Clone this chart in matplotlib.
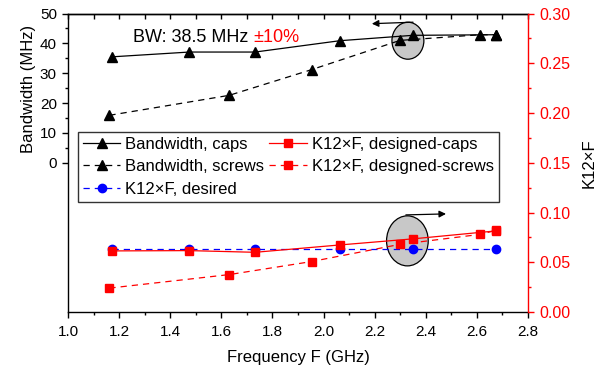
import matplotlib
matplotlib.use("Agg")
import matplotlib.pyplot as plt
from matplotlib.patches import Ellipse
from matplotlib.ticker import MultipleLocator, FixedLocator, FormatStrFormatter

plt.rcParams['font.family'] = ['Liberation Sans', 'DejaVu Sans']

# ---- data ----
f_caps = [1.173, 1.475, 1.732, 2.064, 2.349, 2.674]
bw_caps = [35.5, 37.1, 37.1, 40.9, 42.7, 42.9]
f_screws = [1.162, 1.631, 1.953, 2.299, 2.612, 2.674]
bw_screws = [15.9, 22.6, 31.2, 41.0, 42.9, 42.9]
k_caps = [0.0614, 0.0617, 0.0600, 0.0674, 0.0735, 0.0815]
k_screws = [0.0240, 0.0376, 0.0507, 0.0680, 0.0780, 0.0820]
k_desired = [0.063, 0.063, 0.063, 0.063, 0.063, 0.063]
bw_ticks = [0, 10, 20, 30, 40, 50]

FS_T = 11
FS_L = 12
fig = plt.figure(figsize=(6.04, 3.68), dpi=100)
ax = fig.add_axes([0.1126, 0.1522, 0.7616, 0.811])
ax2 = ax.twinx()

dash = (0, (5, 4))
l1, = ax.plot(f_caps, bw_caps, '-', color='black', lw=0.9, marker='^', ms=6.5, zorder=3,
              label='Bandwidth, caps')
l2, = ax.plot(f_screws, bw_screws, color='black', lw=0.9, ls=dash, marker='^', ms=6.5, zorder=3,
              label='Bandwidth, screws')
l4, = ax2.plot(f_caps, k_caps, '-', color='red', lw=0.9, marker='s', ms=5.5, zorder=3,
               label='K12×F, designed-caps')
l5, = ax2.plot(f_screws, k_screws, color='red', lw=0.9, ls=dash, marker='s', ms=5.5, zorder=3,
               label='K12×F, designed-screws')
l3, = ax2.plot(f_caps, k_desired, color='blue', lw=0.9, ls=dash, marker='o', ms=6, zorder=2,
               label='K12×F, desired')

# ellipses and arrows (annotations)
ax.add_patch(Ellipse((2.330, 40.9), 0.125, 12.4, facecolor='#c8c8c8', edgecolor='black',
                     lw=0.9, zorder=1))
ax2.add_patch(Ellipse((2.328, 0.0715), 0.163, 0.0503, facecolor='#c8c8c8', edgecolor='black',
                      lw=0.9, zorder=1))
ax.annotate('', xy=(2.189, 46.6), xytext=(2.350, 47.1),
            arrowprops=dict(arrowstyle='-|>', color='black', lw=0.9, mutation_scale=10,
                            shrinkA=0, shrinkB=0))
ax2.annotate('', xy=(2.479, 0.0986), xytext=(2.322, 0.0976),
             arrowprops=dict(arrowstyle='-|>', color='black', lw=0.9, mutation_scale=10,
                             shrinkA=0, shrinkB=0))

t = ax.text(1.253, 41.9, 'BW: 38.5 MHz ', fontsize=13, va='center', ha='left', color='black')
ax.annotate('±10%', xy=(1, 0.5), xycoords=t, va='center', ha='left', fontsize=13, color='red')

# axes setup
ax.set_xlim(1.0, 2.8)
ax.set_ylim(-50, 50)
ax2.set_ylim(0, 0.30)
ax.xaxis.set_major_locator(MultipleLocator(0.2))
ax.xaxis.set_minor_locator(MultipleLocator(0.1))
ax.yaxis.set_major_locator(FixedLocator(bw_ticks))
ax.yaxis.set_minor_locator(FixedLocator([5, 15, 25, 35, 45]))
ax2.yaxis.set_major_locator(MultipleLocator(0.05))
ax2.yaxis.set_minor_locator(MultipleLocator(0.025))
ax2.yaxis.set_major_formatter(FormatStrFormatter('%.2f'))
ax.xaxis.set_major_formatter(FormatStrFormatter('%.1f'))

for s in ['left', 'bottom', 'top']:
    ax.spines[s].set_linewidth(1.0)
ax.spines['right'].set_visible(False)
ax2.spines['right'].set_color('red')
ax2.spines['right'].set_linewidth(1.0)
for s in ['left', 'bottom', 'top']:
    ax2.spines[s].set_visible(False)

ax.tick_params(axis='x', which='both', direction='out', top=False, labelsize=FS_T, width=1.0,
               pad=5)
ax.tick_params(axis='x', which='major', length=4.5)
ax.tick_params(axis='x', which='minor', length=2.5)
ax.tick_params(axis='y', which='both', direction='out', labelsize=FS_T, width=1.0)
ax.tick_params(axis='y', which='major', length=4.5)
ax.tick_params(axis='y', which='minor', length=2.5)
ax2.tick_params(axis='y', which='both', direction='out', colors='red', labelsize=11.5, width=1.0)
ax2.tick_params(axis='y', which='major', length=4.5)
ax2.tick_params(axis='y', which='minor', length=2.5)

# top ticks pointing inward
sec = ax.secondary_xaxis('top')
sec.xaxis.set_major_locator(MultipleLocator(0.1))
sec.tick_params(axis='x', which='major', direction='in', length=3.5, width=1.0, labeltop=False)
sec.spines['top'].set_linewidth(1.0)

ax.set_xlabel('Frequency F (GHz)', fontsize=FS_L, labelpad=8)
ax.set_ylabel('Bandwidth (MHz)', fontsize=FS_L, va='center')
ax.yaxis.set_label_coords(-0.085, 0.748)
ax2.set_ylabel('K12×F', fontsize=FS_L, color='black', labelpad=8.5)

leg = ax.legend(handles=[l1, l2, l3, l4, l5], ncol=2, loc='upper left',
                bbox_to_anchor=(0.0217, 0.604), fontsize=FS_L, frameon=True, fancybox=False,
                edgecolor='black', handlelength=2.25, columnspacing=0.3, borderpad=0.3,
                labelspacing=0.45, handletextpad=0.3, borderaxespad=0)
leg.get_frame().set_linewidth(1.0)

fig.savefig('out.png', dpi=100)
